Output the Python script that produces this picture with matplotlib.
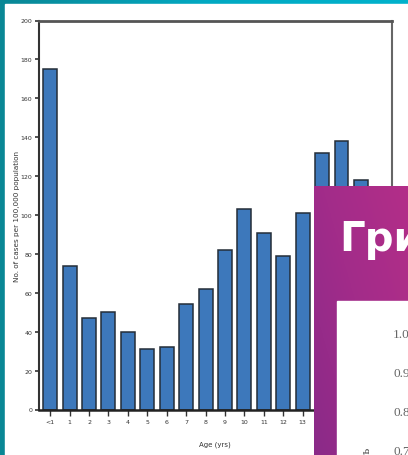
import numpy as np
import matplotlib.pyplot as plt
from matplotlib.patches import Rectangle
from matplotlib.colors import LinearSegmentedColormap

W, H = 408, 456

ages = ["<1", "1", "2", "3", "4", "5", "6", "7", "8", "9",
        "10", "11", "12", "13", "14", "15", "16", "17"]
cases = [175, 74, 47, 50, 40, 31, 32, 54, 62, 82,
         103, 91, 79, 101, 132, 138, 118, 105]
yticks = [0, 20, 40, 60, 80, 100, 120, 140, 160, 180, 200]
inset_ticks = ["1.0", "0.9", "0.8", "0.7"]

narrow = ["Liberation Sans Narrow", "DejaVu Sans"]

fig = plt.figure(figsize=(W / 100, H / 100), dpi=100)

# -----------------------------
# Background (teal slide + white sheet)
# -----------------------------
bg = fig.add_axes([0, 0, 1, 1])
bg.axis("off")
grad = np.linspace(0, 1, 256)[None, :]
teal = LinearSegmentedColormap.from_list("teal", ["#0a8795", "#02a9c2", "#00b2cc"])
bg.imshow(grad, cmap=teal, aspect="auto", extent=[0, 1, 0, 1])
bg.set_xlim(0, 1)
bg.set_ylim(0, 1)
bg.add_patch(Rectangle((5 / W, 0), 1, 1 - 5 / H, color="white"))

# -----------------------------
# Bar chart
# -----------------------------
left, right = 38.5 / W, 392 / W
bottom, top = 1 - 410.5 / H, 1 - 21.5 / H
ax = fig.add_axes([left, bottom, right - left, top - bottom])
ax.set_facecolor("white")
x = np.arange(len(ages))
ax.bar(x, cases, width=0.72, color="#3d78bb", edgecolor="#242d38", linewidth=1.1)
ax.set_xlim(-0.6, len(ages) - 0.4)
ax.set_ylim(0, 200)
ax.set_yticks(yticks)
ax.set_yticklabels([str(v) for v in yticks], fontsize=4.5, family=narrow, color="#333")
ax.set_xticks(x)
ax.set_xticklabels(ages, fontsize=4.5, family=narrow, color="#333")
ax.tick_params(axis="y", direction="out", length=3, width=1.2, color="#333", pad=1.5)
ax.tick_params(axis="x", direction="out", length=4, width=1.0, color="#333", pad=3)
ax.spines["top"].set_linewidth(2.0)
ax.spines["top"].set_color("#555")
ax.spines["right"].set_linewidth(1.5)
ax.spines["right"].set_color("#666")
ax.spines["left"].set_linewidth(1.5)
ax.spines["left"].set_color("#333")
ax.spines["bottom"].set_linewidth(1.8)
ax.spines["bottom"].set_color("#222")
ax.set_xlabel("Age (yrs)", fontsize=5, family=narrow, color="#333", labelpad=12)
ax.set_ylabel("No. of cases per 100,000 population", fontsize=5.2, family=narrow,
              color="#333", labelpad=0.5)

# -----------------------------
# Purple slide overlay
# -----------------------------
px0, py0 = 314 / W, 0
pw, ph = 1 - px0, (H - 187) / H
pa = fig.add_axes([px0, py0, pw, ph])
pa.axis("off")
purple = LinearSegmentedColormap.from_list("purple", ["#8a2a88", "#a22c8a", "#b32e88"])
yy, xx = np.mgrid[0:1:128j, 0:1:128j]
pa.imshow(0.55 * xx + 0.45 * yy, cmap=purple, aspect="auto",
          extent=[0, 1, 0, 1], origin="lower")
pa.set_xlim(0, 1)
pa.set_ylim(0, 1)

fig.text(339 / W, 1 - 251 / H, "Гри", color="white", fontsize=29,
         fontweight="bold", family="DejaVu Sans", va="baseline", ha="left")

# inner white panel with a partly visible chart
fig.patches.append(Rectangle((337 / W, 0), 1, 1 - 302 / H, color="white",
                             transform=fig.transFigure, figure=fig, zorder=5))
for i, lab in enumerate(inset_ticks):
    fig.text(393 / W, 1 - (335 + 39 * i) / H, lab, fontsize=9.5, family="Liberation Serif",
             color="#666", va="center", ha="left", zorder=6)
fig.text(367 / W, 1 - 447 / H, "Выживаемость", fontsize=9, family="Liberation Serif",
         color="#444", rotation=90, va="top", ha="center", zorder=6)

fig.savefig("out.png", dpi=100)
